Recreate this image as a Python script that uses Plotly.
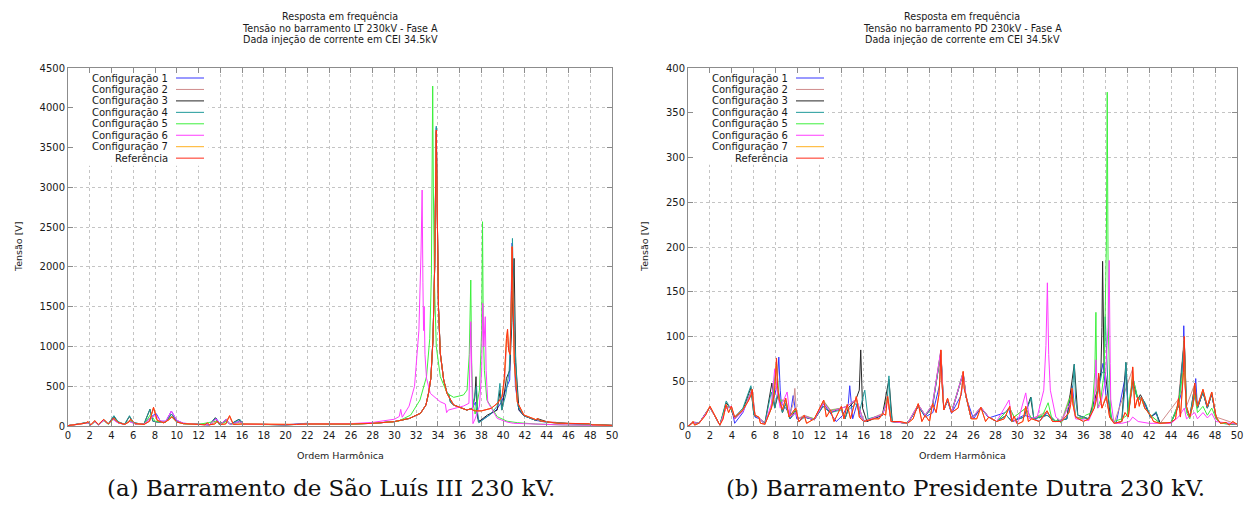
import plotly.graph_objects as go

W, H = 1245, 510

NAMES = ["Configuração 1", "Configuração 2", "Configuração 3", "Configuração 4",
         "Configuração 5", "Configuração 6", "Configuração 7", "Referência"]
COLORS = ["#3535ff", "#d08c8c", "#262626", "#1f9a9a", "#3cf03c", "#ff3cff", "#ffb020", "#ff2a1a"]

# ---------------- São Luís III 230 kV : (harmonic order, voltage V) ----------------
SL_C1 = [(0,5),(1.0,20),(1.85,40),(2.1,12),(2.46,55),(2.8,15),(3.28,70),(3.7,25),(4.1,90),(4.6,40),(5.2,20),(5.65,60),(6.2,25),(7.0,25),(7.5,100),(8.09,160),(8.5,60),(9.0,60),(9.5,188),(10.0,70),(10.6,35),(12.0,20),(13.0,15),(13.6,100),(14.0,20),(14.54,84),(14.9,20),(15.8,60),(16.2,20),(18.0,20),(20.0,15),(22.0,35),(22.3,20),(24.0,22),(26.0,25),(28.0,33),(30.0,55),(31.4,96),(32.4,160),(32.9,264),(33.15,420),(33.35,600),(33.55,1100),(33.7,2000),(33.8,3200),(33.85,3750),(33.93,2800),(34.05,1500),(34.22,913),(34.53,578),(34.83,410),(35.45,264),(36.65,201),(37.15,220),(37.45,300),(37.65,100),(37.85,60),(38.55,120),(39.35,200),(39.85,300),(40.35,500),(40.6,578),(40.72,1500),(40.82,2300),(40.92,1500),(41.12,500),(41.45,200),(41.9,130),(43.0,70),(44.2,45),(44.8,45),(46.0,30),(48.0,18),(50,8)]
SL_C2 = [(0,5),(1.0,22),(1.85,50),(2.1,14),(2.46,62),(2.8,18),(3.28,80),(3.7,25),(4.2,95),(4.6,45),(5.2,20),(5.75,80),(6.2,30),(7.0,22),(7.5,70),(7.86,220),(8.2,70),(8.8,40),(9.55,110),(10.0,50),(10.6,30),(12.0,20),(12.8,35),(13.0,15),(13.7,55),(14.0,20),(14.85,110),(15.2,20),(16.0,25),(18.0,20),(20.0,15),(22.0,25),(24.0,22),(26.0,25),(28.0,33),(30.0,55),(31.4,96),(32.4,160),(32.9,264),(33.15,420),(33.35,600),(33.55,1100),(33.7,2000),(33.8,3200),(33.85,3700),(33.93,2800),(34.05,1500),(34.22,913),(34.53,578),(34.83,410),(35.45,264),(36.65,201),(37.0,215),(37.4,190),(38.0,190),(38.9,222),(39.5,290),(39.9,370),(40.15,600),(40.3,1000),(40.4,1150),(40.5,950),(40.63,900),(40.76,1600),(40.82,2200),(40.9,1600),(41.02,800),(41.3,300),(41.9,138),(43.0,80),(44.0,54),(46.0,33),(48.0,21),(50,8)]
SL_C3 = [(0,5),(1.0,22),(1.85,45),(2.1,12),(2.46,60),(2.8,18),(3.28,80),(3.7,25),(4.22,120),(4.6,50),(5.2,20),(5.65,120),(6.0,40),(6.5,30),(7.0,30),(7.53,210),(7.8,60),(8.2,50),(9.0,50),(9.5,150),(10.0,60),(10.6,30),(12.0,20),(13.0,15),(13.54,105),(13.9,20),(14.54,70),(14.9,20),(15.7,84),(16.1,20),(18.0,20),(20.0,15),(22.0,25),(24.0,22),(26.0,25),(28.0,33),(30.0,55),(31.4,96),(32.4,160),(32.9,264),(33.15,420),(33.35,600),(33.55,1100),(33.7,2000),(33.8,3200),(33.85,3700),(33.93,2800),(34.05,1500),(34.22,913),(34.53,578),(34.83,420),(35.0,390),(35.15,300),(35.45,264),(36.65,201),(37.15,220),(37.38,350),(37.5,620),(37.6,200),(37.72,50),(38.55,138),(39.45,200),(39.72,450),(39.88,200),(40.3,600),(40.6,700),(40.8,1300),(41.0,2107),(41.15,800),(41.45,200),(41.9,130),(43.0,70),(43.2,90),(44.2,45),(46.0,30),(48.0,18),(50,8)]
SL_C4 = [(0,5),(1.0,22),(1.85,45),(2.1,12),(2.46,60),(2.8,18),(3.28,80),(3.7,25),(4.22,130),(4.6,55),(5.2,22),(5.65,130),(6.0,45),(6.5,30),(7.0,30),(7.53,210),(7.8,60),(8.2,50),(9.0,50),(9.5,150),(10.0,60),(10.6,30),(12.0,20),(13.0,15),(13.54,100),(13.9,20),(14.54,70),(14.9,20),(15.8,84),(16.1,20),(18.0,20),(20.0,15),(22.0,25),(24.0,22),(26.0,25),(28.0,33),(30.0,55),(31.4,96),(32.4,160),(32.9,264),(33.15,420),(33.35,600),(33.55,1100),(33.7,2000),(33.8,3200),(33.85,3770),(33.93,2800),(34.05,1500),(34.22,913),(34.53,578),(34.83,420),(35.0,400),(35.15,300),(35.45,264),(36.65,201),(37.15,220),(37.42,400),(37.55,500),(37.66,150),(37.76,40),(38.85,150),(39.45,250),(39.7,536),(39.85,200),(40.25,400),(40.55,700),(40.72,1200),(40.85,2358),(41.02,1200),(41.35,250),(41.9,130),(43.0,70),(43.15,96),(43.35,60),(44.2,45),(46.0,30),(48.0,18),(50,8)]
SL_C5 = [(0,5),(1.0,20),(1.85,40),(2.1,12),(2.46,50),(2.8,15),(3.28,65),(3.7,22),(4.2,90),(4.6,40),(5.2,20),(5.7,70),(6.2,25),(7.0,22),(7.6,150),(8.0,60),(9.0,50),(9.5,120),(10.0,50),(10.6,30),(12.0,20),(13.6,60),(14.0,20),(14.6,60),(15.0,20),(15.8,50),(16.2,20),(18.0,18),(20.0,15),(22.0,22),(24.0,22),(26.0,25),(28.0,33),(30.0,50),(30.37,60),(31.5,138),(32.35,327),(32.95,620),(33.25,1100),(33.4,1900),(33.47,3200),(33.52,4273),(33.58,3000),(33.68,1800),(33.85,1000),(34.22,620),(34.85,410),(35.45,360),(36.35,390),(36.68,452),(36.88,900),(37.02,1835),(37.1,800),(37.22,300),(37.42,150),(37.82,450),(38.02,1200),(38.1,2568),(38.17,1200),(38.27,700),(38.5,327),(39.45,117),(40.35,60),(41.3,42),(43.0,25),(45.75,13),(50,5)]
SL_C6 = [(0,5),(1.0,20),(1.85,40),(2.1,12),(2.46,55),(2.8,15),(3.28,70),(3.7,25),(4.1,85),(4.6,40),(5.2,20),(5.65,55),(6.2,25),(7.0,25),(7.5,90),(8.09,140),(8.5,60),(9.0,60),(9.5,188),(10.0,70),(10.6,35),(12.0,20),(13.0,15),(13.6,90),(14.0,20),(14.54,80),(14.9,20),(15.8,55),(16.2,20),(18.0,20),(20.0,15),(22.0,25),(24.0,25),(26.0,30),(28.0,45),(30.0,85),(30.45,120),(30.58,209),(30.72,110),(31.35,250),(31.85,500),(32.25,1200),(32.45,2200),(32.55,2966),(32.62,1800),(32.68,1200),(32.74,1500),(32.81,900),(32.95,600),(33.3,410),(34.2,306),(34.68,276),(34.8,168),(34.95,200),(35.9,235),(36.35,251),(36.85,285),(36.94,700),(37.02,1311),(37.12,600),(37.22,30),(37.42,90),(37.82,250),(38.02,700),(38.12,1541),(38.22,1000),(38.35,1374),(38.43,700),(38.58,300),(39.45,96),(40.35,50),(40.95,34),(43.0,22),(45.0,15),(50,5)]
SL_REF = [(0,5),(1.0,25),(1.6,35),(1.85,55),(2.1,15),(2.46,67),(2.8,20),(3.28,84),(3.7,25),(4.0,70),(4.2,100),(4.6,45),(5.2,20),(5.6,50),(5.75,84),(6.2,30),(7.0,20),(7.5,60),(7.86,235),(8.2,70),(8.8,40),(9.3,80),(9.55,117),(10.0,50),(10.6,30),(12.0,20),(12.6,15),(12.8,40),(13.0,15),(13.5,25),(13.7,60),(14.0,20),(14.5,25),(14.85,130),(15.2,20),(16.0,25),(18.0,20),(20.0,15),(21.0,20),(22.0,25),(24.0,22),(26.0,25),(28.0,33),(29.0,42),(30.0,55),(30.7,75),(31.4,96),(32.4,160),(32.9,264),(33.15,420),(33.35,600),(33.55,1100),(33.7,2000),(33.8,3200),(33.85,3720),(33.93,2800),(34.05,1500),(34.22,913),(34.53,578),(34.83,410),(35.45,264),(36.65,201),(37.0,215),(37.4,190),(38.0,190),(38.9,222),(39.5,290),(39.9,370),(40.1,600),(40.3,1100),(40.4,1215),(40.5,950),(40.63,900),(40.76,1700),(40.82,2254),(40.9,1600),(41.02,800),(41.3,300),(41.9,138),(43.0,80),(43.2,95),(43.4,65),(44.0,54),(44.7,45),(45.0,35),(46.0,33),(47.9,28),(48.2,15),(50,8)]
SL_C7 = SL_REF  # orange curve lies entirely under the reference curve

# ---------------- Presidente Dutra 230 kV : (harmonic order, voltage V) ----------------
PD_REF = [(0,0),(0.3,2),(0.45,5),(0.6,1),(1.0,3),(1.6,12),(2.0,22),(2.4,12),(2.9,1),(3.2,8),(3.45,24),(3.7,15),(3.95,22),(4.25,10),(5.0,18),(5.5,28),(5.75,35),(5.85,41),(5.95,25),(6.1,12),(6.45,10),(6.6,3),(7.0,2),(7.6,20),(7.85,35),(7.95,50),(8.06,76),(8.15,45),(8.3,30),(8.6,18),(8.9,31),(9.2,10),(9.5,15),(9.8,20),(10.1,5),(10.58,12),(10.8,3),(11.5,8),(12.36,29),(12.6,10),(12.97,18),(13.3,5),(13.97,22),(14.2,8),(14.5,24),(14.8,8),(15.33,33),(15.6,10),(16.0,5),(16.9,8),(17.4,8),(17.73,14),(18.0,12),(18.18,33),(18.5,5),(19.3,5),(20.0,3),(20.5,8),(20.97,25),(21.3,5),(21.6,12),(22.0,5),(22.27,25),(22.6,15),(22.85,35),(22.95,55),(23.03,85),(23.12,50),(23.3,18),(23.64,31),(24.0,15),(24.6,20),(24.85,35),(24.97,45),(25.06,61),(25.15,42),(25.3,35),(25.8,8),(26.3,8),(26.67,21),(27.1,5),(27.39,10),(28.1,5),(28.8,8),(29.3,22),(29.5,5),(29.7,11),(30.0,2),(30.5,5),(30.76,22),(31.0,5),(31.3,8),(32.0,5),(32.7,17),(33.2,5),(34.0,5),(34.7,15),(34.85,24),(34.97,42),(35.05,25),(35.3,10),(36.0,5),(36.5,8),(37.0,20),(37.2,30),(37.33,40),(37.4,59),(37.5,35),(37.7,20),(38.1,33),(38.4,10),(38.8,3),(39.5,5),(39.8,15),(40.1,10),(40.3,30),(40.42,45),(40.5,66),(40.6,35),(40.7,20),(40.97,32),(41.1,22),(41.3,32),(41.6,20),(42.12,12),(42.4,5),(43.0,3),(44.0,4),(44.4,8),(44.67,31),(44.85,10),(45.0,35),(45.12,60),(45.2,100),(45.28,45),(45.4,22),(45.7,10),(46.0,25),(46.08,35),(46.15,48),(46.25,30),(46.4,22),(46.9,41),(47.3,22),(47.7,38),(48.1,10),(48.5,3),(49.0,4),(49.3,1),(49.6,5),(50,2)]
PD_C1 = [(0,0),(0.45,4),(1.0,3),(2.0,21),(2.9,1),(3.45,20),(3.97,21),(4.25,3),(5.0,15),(5.8,40),(6.1,10),(6.5,8),(7.0,2),(7.7,25),(8.1,45),(8.27,77),(8.4,40),(8.5,25),(8.9,20),(9.3,12),(9.58,34),(9.9,8),(10.6,10),(11.5,7),(12.36,25),(12.97,15),(13.5,5),(14.1,12),(14.6,25),(14.73,45),(15.0,8),(15.4,25),(15.7,10),(16.2,5),(17.7,12),(18.2,30),(18.5,5),(20.0,3),(21.0,22),(21.6,10),(22.3,15),(22.9,45),(23.03,82),(23.15,45),(23.3,18),(23.64,28),(24.0,14),(24.9,35),(25.06,58),(25.3,33),(26.0,8),(26.67,20),(27.4,9),(28.9,15),(29.2,20),(29.5,5),(30.6,12),(31.2,10),(32.0,5),(32.7,15),(33.5,5),(34.5,8),(35.0,45),(35.3,10),(36.5,8),(37.3,40),(37.8,70),(38.1,30),(38.5,8),(39.0,3),(39.9,60),(40.1,10),(40.5,55),(40.97,30),(41.3,30),(41.67,22),(42.12,10),(42.64,14),(43,3),(44,4),(44.67,25),(45.0,40),(45.1,70),(45.15,112),(45.25,50),(45.35,20),(45.7,10),(46.1,30),(46.24,53),(46.4,20),(46.9,38),(47.3,20),(47.7,36),(48.1,9),(48.5,3),(50,2)]
PD_C2 = [(0,0),(0.45,5),(1.0,3),(2.0,22),(2.9,1),(3.45,22),(3.95,20),(4.25,8),(5.0,17),(5.85,40),(6.1,12),(6.45,10),(7.0,2),(7.6,22),(8.06,70),(8.3,30),(8.9,28),(9.2,12),(9.6,25),(9.73,42),(9.85,20),(10.0,8),(10.58,12),(11.5,8),(12.36,28),(12.97,18),(13.97,20),(14.5,22),(15.33,30),(16.0,5),(17.73,14),(18.18,35),(18.5,5),(20.0,3),(20.97,24),(21.6,12),(22.27,24),(23.03,84),(23.3,18),(23.64,30),(24.0,15),(25.06,60),(25.3,35),(25.8,8),(26.67,21),(27.39,10),(28.1,5),(29.3,20),(29.7,10),(30.76,20),(31.3,8),(32.7,16),(33.2,5),(34.0,5),(34.97,40),(35.3,10),(36.5,8),(37.4,55),(37.7,20),(38.1,35),(38.4,10),(38.8,3),(40.5,64),(40.7,20),(40.97,32),(41.3,32),(41.6,20),(42.12,12),(43,3),(44.67,30),(45.2,98),(45.4,22),(46.15,47),(46.4,22),(46.9,40),(47.3,22),(47.7,37),(48.1,10),(50,2)]
PD_C3 = [(0,0),(0.45,4),(1.0,3),(2.0,21),(2.9,1),(3.48,26),(3.95,18),(4.25,8),(5.0,18),(5.73,43),(6.0,12),(6.45,9),(7.0,3),(7.64,48),(7.9,20),(8.2,35),(8.6,15),(8.9,25),(9.3,8),(9.8,18),(10.1,5),(10.6,10),(11.5,7),(12.3,22),(12.97,15),(13.97,20),(14.3,8),(14.6,20),(15.3,30),(15.6,40),(15.73,85),(15.85,35),(15.9,20),(16.3,5),(17.7,12),(18.3,52),(18.6,5),(20.0,3),(20.97,22),(21.6,11),(22.27,22),(23.03,82),(23.3,18),(23.64,29),(24.0,15),(25.06,59),(25.3,34),(25.8,8),(26.67,20),(27.39,10),(28.1,5),(29.0,12),(29.5,5),(30.6,10),(31.2,32),(31.5,8),(32.7,12),(33.5,5),(34.5,8),(35.18,69),(35.5,12),(36.5,8),(37.3,40),(37.6,60),(37.7,110),(37.76,184),(37.82,100),(37.9,60),(38.0,60),(38.2,40),(38.5,8),(38.9,3),(39.5,5),(39.88,71),(40.1,15),(40.5,50),(40.97,30),(41.2,35),(41.67,24),(42.12,10),(42.64,15),(43,3),(44,4),(44.67,22),(45.2,95),(45.4,20),(45.7,10),(46.15,45),(46.4,20),(46.9,38),(47.3,20),(47.7,36),(48.1,9),(48.5,3),(50,2)]
PD_C4 = [(0,0),(0.45,4),(1.0,3),(2.0,21),(2.9,1),(3.48,28),(3.95,18),(4.25,10),(5.0,20),(5.73,45),(6.0,12),(6.45,9),(7.0,3),(7.58,38),(7.9,20),(8.2,40),(8.6,15),(8.9,25),(9.3,8),(9.8,15),(10.1,5),(10.6,10),(11.5,7),(12.3,22),(12.97,15),(13.97,18),(14.3,8),(14.6,18),(15.3,25),(15.6,15),(16.1,40),(16.4,8),(17.7,12),(18.15,30),(18.3,56),(18.45,20),(18.6,5),(20.0,3),(20.97,22),(21.6,11),(22.27,22),(23.03,82),(23.3,18),(23.64,29),(24.0,15),(25.06,59),(25.3,34),(25.8,8),(26.67,20),(27.39,10),(28.1,5),(29.0,12),(29.5,5),(30.6,10),(31.27,32),(31.5,8),(32.7,12),(33.5,5),(34.5,8),(35.0,35),(35.18,69),(35.3,30),(35.5,12),(36.5,8),(37.3,35),(37.7,60),(37.9,60),(38.0,122),(38.1,90),(38.3,30),(38.6,8),(38.9,3),(39.5,5),(39.75,35),(39.88,71),(40.0,30),(40.1,15),(40.5,45),(40.97,30),(41.3,32),(41.67,25),(42.12,10),(42.64,16),(42.9,3),(44,4),(44.67,22),(45.2,95),(45.4,20),(45.7,10),(46.15,45),(46.4,20),(46.9,38),(47.3,20),(47.7,36),(48.1,9),(48.5,3),(50,2)]
PD_C5 = [(0,0),(0.45,4),(1.0,3),(2.0,21),(2.9,1),(3.45,22),(3.95,20),(4.25,9),(5.0,17),(5.85,40),(6.1,12),(6.45,9),(7.0,2),(7.6,20),(8.06,70),(8.3,28),(8.9,28),(9.2,10),(9.8,18),(10.1,5),(10.58,11),(11.5,8),(12.36,27),(12.97,17),(13.97,20),(14.5,22),(15.33,30),(16.0,5),(17.73,13),(18.18,32),(18.5,5),(20.0,3),(20.97,24),(21.6,12),(22.27,24),(23.03,84),(23.3,18),(23.64,30),(24.0,16),(25.06,60),(25.3,35),(25.8,8),(26.67,21),(27.39,10),(28.1,5),(29.3,20),(29.7,10),(30.76,20),(31.3,8),(32.3,12),(32.8,26),(33.1,10),(33.5,5),(33.7,8),(34.0,3),(34.97,38),(35.3,10),(35.9,8),(36.2,12),(36.8,15),(37.05,60),(37.15,127),(37.22,50),(37.3,20),(37.6,30),(37.9,60),(38.1,200),(38.18,373),(38.25,200),(38.3,100),(38.5,10),(38.8,5),(39.5,8),(40.0,12),(40.5,55),(40.97,30),(41.3,30),(41.6,20),(42.12,12),(43,3),(44.0,4),(44.67,25),(45.2,70),(45.4,15),(45.7,8),(46.15,35),(46.4,15),(46.9,22),(47.3,12),(47.7,20),(48.1,8),(48.5,3),(50,2)]
PD_C6 = [(0,0),(0.45,4),(1.0,3),(2.0,21),(2.9,1),(3.45,20),(3.95,22),(4.25,8),(5.0,16),(5.85,40),(6.1,12),(6.45,9),(7.0,2),(7.6,25),(7.9,64),(8.1,40),(8.4,20),(9.03,38),(9.3,10),(9.8,15),(10.1,5),(10.58,11),(11.5,7),(12.36,26),(12.97,16),(13.97,20),(14.5,22),(15.33,30),(16.0,5),(17.73,13),(18.18,30),(18.5,5),(20.0,3),(20.97,24),(21.6,12),(22.27,24),(23.03,85),(23.3,18),(23.64,30),(24.0,15),(25.06,60),(25.3,35),(25.8,8),(26.67,21),(27.39,10),(28.1,5),(29.24,29),(29.5,8),(30.0,3),(30.76,37),(31.1,8),(31.8,10),(32.4,40),(32.6,90),(32.73,160),(32.85,80),(33.0,40),(33.5,10),(34.0,5),(34.97,30),(35.3,8),(36.5,6),(37.0,20),(37.15,74),(37.35,20),(37.6,25),(38.0,50),(38.25,110),(38.36,185),(38.45,70),(38.5,30),(38.8,3),(39.5,3),(40.2,5),(40.5,10),(41.0,5),(42,3),(44.0,3),(44.67,10),(45.2,20),(45.4,8),(46.15,15),(46.4,8),(46.9,15),(47.3,9),(47.7,14),(48.1,5),(50,2)]
PD_C7 = PD_REF  # orange curve lies entirely under the reference curve

SL_SERIES = [SL_C1, SL_C2, SL_C3, SL_C4, SL_C5, SL_C6, SL_C7, SL_REF]
PD_SERIES = [PD_C1, PD_C2, PD_C3, PD_C4, PD_C5, PD_C6, PD_C7, PD_REF]

X_TICKS = list(range(0, 51, 2))
SL_YTICKS = list(range(0, 4501, 500))
PD_YTICKS = list(range(0, 401, 50))

TITLE_SL = ["Resposta em frequência", "Tensão no barramento LT 230kV - Fase A", "Dada injeção de corrente em CEI 34.5kV"]
TITLE_PD = ["Resposta em frequência", "Tensão no barramento PD 230kV - Fase A", "Dada injeção de corrente em CEI 34.5kV"]
CAPTION_SL = "(a) Barramento de São Luís III 230 kV."
CAPTION_PD = "(b) Barramento Presidente Dutra 230 kV."

FONT = "DejaVu Sans"
TXT = "#1a1a1a"

fig = go.Figure()

# white legend backgrounds (the dotted grid is hidden behind the key in the original)
for xa, ya, x1, y0, y1 in [("x", "y", 12.9, 3270, 4500), ("x2", "y2", 12.75, 292, 400)]:
    fig.add_trace(go.Scatter(x=[0.02, x1, x1, 0.02, 0.02], y=[y0, y0, y1 * 0.998, y1 * 0.998, y0],
                             mode="lines", fill="toself", fillcolor="white",
                             line=dict(width=0, color="white"), xaxis=xa, yaxis=ya,
                             showlegend=False, hoverinfo="skip"))

for data, xa, ya in [(SL_SERIES, "x", "y"), (PD_SERIES, "x2", "y2")]:
    for name, series, color in zip(NAMES, data, COLORS):
        hs = [p[0] for p in series]
        vs = [p[1] for p in series]
        fig.add_trace(go.Scatter(x=hs, y=vs, mode="lines", name=name,
                                 line=dict(color=color, width=1),
                                 xaxis=xa, yaxis=ya, showlegend=False, hoverinfo="skip"))

def px_x(p):
    return p / W

def px_y(p):
    return 1 - p / H

ydom = [px_y(426), px_y(68)]
axis_common = dict(showline=True, linecolor="#8c8c8c", linewidth=1, mirror="ticks",
                   ticks="inside", ticklen=5, tickcolor="#8c8c8c",
                   showgrid=True, gridcolor="#c4c4c4", griddash="dot", gridwidth=1,
                   zeroline=False, tickfont=dict(family=FONT, size=10, color=TXT))

fig.update_layout(
    width=W, height=H, margin=dict(l=0, r=0, t=0, b=0, autoexpand=False),
    paper_bgcolor="white", plot_bgcolor="white", showlegend=False,
    xaxis=dict(domain=[px_x(68), px_x(612)], range=[0, 50], tickvals=X_TICKS, anchor="y", **axis_common),
    yaxis=dict(domain=ydom, range=[0, 4500], tickvals=SL_YTICKS, anchor="x", **axis_common),
    xaxis2=dict(domain=[px_x(688), px_x(1237)], range=[0, 50], tickvals=X_TICKS, anchor="y2", **axis_common),
    yaxis2=dict(domain=ydom, range=[0, 400], tickvals=PD_YTICKS, anchor="x2", **axis_common),
)

ann = []
shapes = []
for cx, lines in [(340, TITLE_SL), (962, TITLE_PD)]:
    for i, t in enumerate(lines):
        ann.append(dict(text=t, x=px_x(cx), y=px_y(16 + 12 * i), xref="paper", yref="paper",
                        showarrow=False, xanchor="center", yanchor="middle",
                        font=dict(family=FONT, size=9.6, color=TXT)))
for lx, cx in [(18, 340), (644, 962)]:
    ann.append(dict(text="Tensão [V]", x=px_x(lx), y=px_y(247), xref="paper", yref="paper",
                    showarrow=False, textangle=-90, xanchor="center", yanchor="middle",
                    font=dict(family=FONT, size=9.5, color=TXT)))
    ann.append(dict(text="Ordem Harmônica", x=px_x(cx), y=px_y(455), xref="paper", yref="paper",
                    showarrow=False, xanchor="center", yanchor="middle",
                    font=dict(family=FONT, size=9.5, color=TXT)))
for cx, t in [(331, CAPTION_SL), (965, CAPTION_PD)]:
    ann.append(dict(text=t, x=px_x(cx), y=px_y(488), xref="paper", yref="paper",
                    showarrow=False, xanchor="center", yanchor="middle",
                    font=dict(family="DejaVu Serif", size=23, color="#111111")))
for tx, l0, l1 in [(170, 176, 204), (790, 796, 824)]:
    for i, (name, color) in enumerate(zip(NAMES, COLORS)):
        yy = px_y(78 + 11.45 * i)
        ann.append(dict(text=name, x=px_x(tx), y=yy, xref="paper", yref="paper",
                        showarrow=False, xanchor="right", yanchor="middle",
                        font=dict(family=FONT, size=10, color=TXT)))
        shapes.append(dict(type="line", xref="paper", yref="paper", x0=px_x(l0), x1=px_x(l1),
                           y0=yy, y1=yy, line=dict(color=color, width=1)))

fig.update_layout(annotations=ann, shapes=shapes)
fig.write_html("out.html")
